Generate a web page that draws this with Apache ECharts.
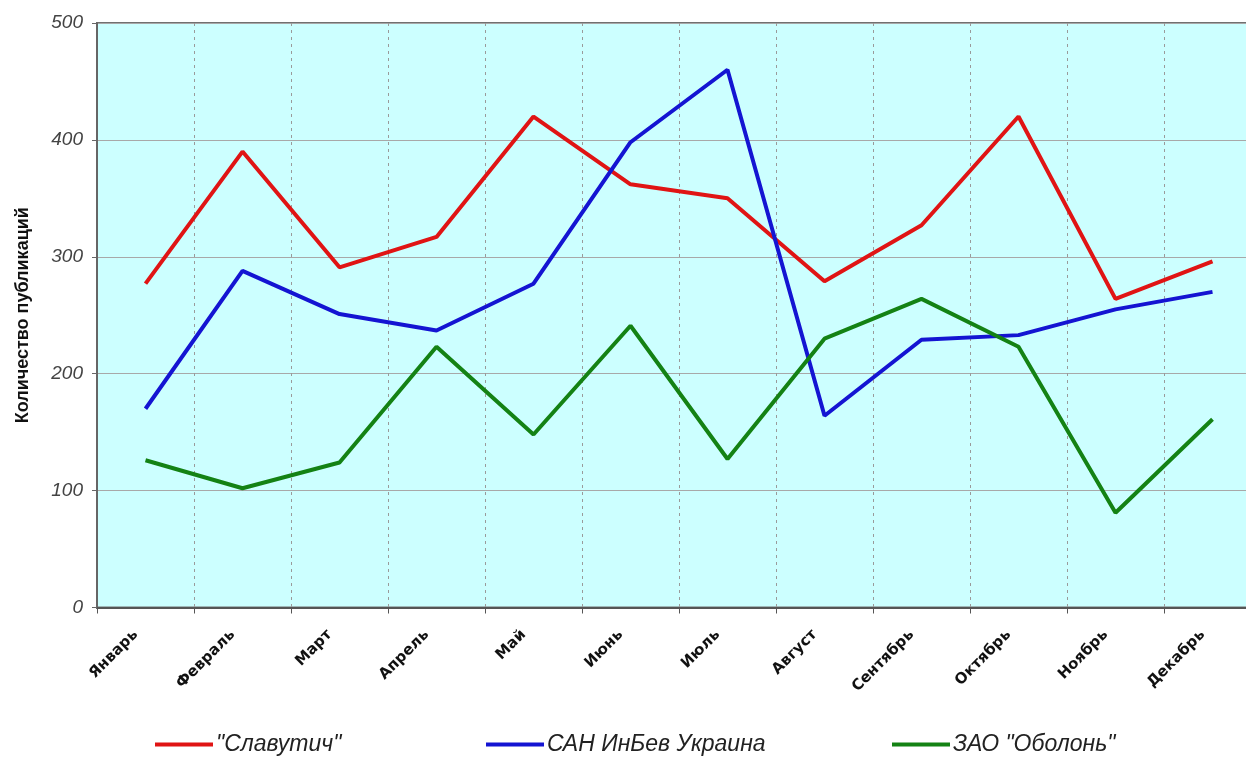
<!DOCTYPE html>
<html>
<head>
<meta charset="utf-8">
<script src="https://cdn.jsdelivr.net/npm/echarts@6/dist/echarts.min.js"></script>
<style>
html,body{margin:0;padding:0;background:#fff;overflow:hidden;width:1246px;height:760px;}
#c{width:1262px;height:760px;}
</style>
</head>
<body>
<div id="c"></div>
<script>
const months = ['Январь','Февраль','Март','Апрель','Май','Июнь','Июль','Август','Сентябрь','Октябрь','Ноябрь','Декабрь'];
const seriesNames = ['"Славутич"','САН ИнБев Украина','ЗАО "Оболонь"'];
const slavutich = [277, 390, 291, 317, 420, 362, 350, 279, 327, 420, 264, 296];
const inbev = [170, 288, 251, 237, 277, 398, 460, 164, 229, 233, 255, 270];
const obolon = [126, 102, 124, 223, 148, 241, 127, 230, 264, 223, 81, 161];
const yTicks = {min: 0, max: 500, interval: 100};
const yTitle = 'Количество публикаций';

const colors = ['#e01414', '#1414d2', '#148214'];
const font = '"Liberation Sans", Arial, sans-serif';

const chart = echarts.init(document.getElementById('c'));
const legendBase = {
  bottom: -1, icon: 'rect', itemWidth: 58, itemHeight: 4, itemGap: 6,
  textStyle: {fontFamily: font, fontStyle: 'italic', fontSize: 23, color: '#222', padding: [0,0,0,-2]}
};
chart.setOption({
  animation: false,
  backgroundColor: '#fff',
  grid: {left: 97, top: 23, right: 1, bottom: 152.5, show: true,
         backgroundColor: '#ccffff', borderColor: '#707070', borderWidth: 2},
  legend: [
    Object.assign({}, legendBase, {left: 150, data: [seriesNames[0]]}),
    Object.assign({}, legendBase, {left: 481, data: [seriesNames[1]]}),
    Object.assign({}, legendBase, {left: 887, data: [seriesNames[2]]})
  ],
  xAxis: {
    type: 'category', data: months, boundaryGap: true,
    axisLine: {lineStyle: {color: '#555', width: 2}},
    axisTick: {show: true, interval: 0, length: 6, lineStyle: {color: '#555'}},
    splitLine: {show: true, interval: 0, lineStyle: {color: '#9a9a9a', type: [3,4], width: 1}},
    axisLabel: {interval: 0, rotate: 45, margin: 15, padding: [0, 14, 0, 0], fontFamily: '"DejaVu Sans", sans-serif', fontWeight: 'bold', fontSize: 15, color: '#111'}
  },
  yAxis: {
    type: 'value', min: yTicks.min, max: yTicks.max, interval: yTicks.interval,
    name: yTitle, nameLocation: 'middle', nameRotate: 90, nameGap: 65,
    nameTextStyle: {fontFamily: font, fontWeight: 'bold', fontSize: 18, color: '#111'},
    axisLine: {show: true, lineStyle: {color: '#666', width: 2}},
    axisTick: {show: true, length: 5, lineStyle: {color: '#666'}},
    splitLine: {show: true, lineStyle: {color: '#a8a8a8', width: 1}},
    axisLabel: {margin: 14, fontFamily: font, fontStyle: 'italic', fontSize: 19, color: '#444'}
  },
  series: [slavutich, inbev, obolon].map((d, i) => ({
    name: seriesNames[i], type: 'line', data: d, showSymbol: false, symbol: 'none',
    lineStyle: {color: colors[i], width: 4}, itemStyle: {color: colors[i]}
  }))
});
</script>
</body>
</html>
